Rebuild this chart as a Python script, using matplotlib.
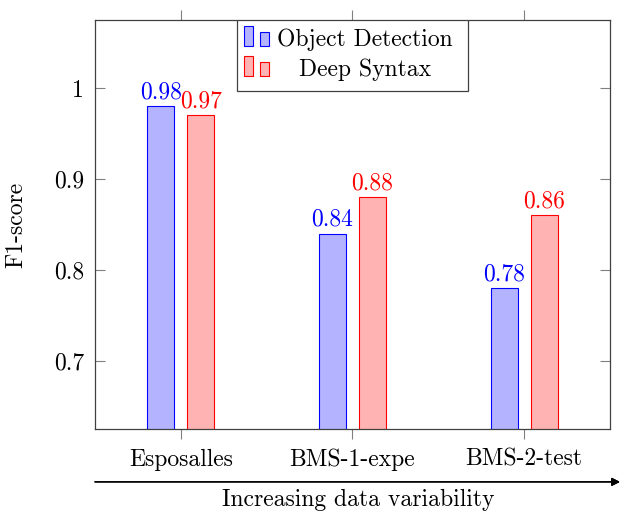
import matplotlib.pyplot as plt
from matplotlib.patches import Rectangle
import numpy as np

plt.rcParams['font.family'] = 'cmr10'
plt.rcParams['axes.formatter.use_mathtext'] = True

categories = ['Esposalles', 'BMS-1-expe', 'BMS-2-test']
object_detection = [0.98, 0.84, 0.78]
deep_syntax = [0.97, 0.88, 0.86]
series_names = ['Object Detection', 'Deep Syntax']

blue_fill = '#b3b3ff'
red_fill = '#ffb3b3'
fs = 17

fig = plt.figure(figsize=(6.2, 5.11), dpi=100)
ax = fig.add_axes([0.1532, 0.1599, 0.8306, 0.801])

x = np.arange(len(categories))
w = 0.157
off = 0.1165
ax.bar(x - off, object_detection, w, color=blue_fill, edgecolor='blue', linewidth=0.8)
ax.bar(x + off, deep_syntax, w, color=red_fill, edgecolor='red', linewidth=0.8)

for xi, v in zip(x, object_detection):
    ax.annotate(f'{v:.2f}', (xi - off, v), xytext=(0, 2), textcoords='offset points',
                ha='center', va='bottom', color='blue', fontsize=fs)
for xi, v in zip(x, deep_syntax):
    ax.annotate(f'{v:.2f}', (xi + off, v), xytext=(0, 2), textcoords='offset points',
                ha='center', va='bottom', color='red', fontsize=fs)

ax.set_xlim(-0.5, 2.5)
ax.set_ylim(0.6244, 1.0752)
ax.set_xticks(x)
ax.set_xticklabels(categories, fontsize=fs)
ax.set_yticks([0.7, 0.8, 0.9, 1.0])
ax.set_yticklabels(['0.7', '0.8', '0.9', '1'], fontsize=fs)
ax.tick_params(axis='x', direction='out', length=7, top=True, color='#808080', pad=7)
ax.tick_params(axis='y', direction='in', length=7, right=True, color='#808080', pad=8)
for s in ax.spines.values():
    s.set_color('#404040')
    s.set_linewidth(0.9)
ax.set_ylabel('F1-score', fontsize=fs)
ax.yaxis.set_label_coords(-0.132, 0.5)

# legend drawn like pgfplots ybar legend
ax.add_patch(Rectangle((0.2757, 0.8265), 0.4486, 0.1735, transform=ax.transAxes,
                       facecolor='white', edgecolor='#404040', linewidth=0.9, zorder=5))
rows = [(0.951, blue_fill, 'blue'), (0.878, red_fill, 'red')]
for (yc, fc, ec), name in zip(rows, series_names):
    ax.add_patch(Rectangle((0.2893, yc - 0.015), 0.017, 0.049, transform=ax.transAxes,
                           facecolor=fc, edgecolor=ec, linewidth=0.8, zorder=6))
    ax.add_patch(Rectangle((0.3204, yc - 0.015), 0.0175, 0.035, transform=ax.transAxes,
                           facecolor=fc, edgecolor=ec, linewidth=0.8, zorder=6))
    ax.text(0.524, yc, name, transform=ax.transAxes, ha='center', va='center',
            fontsize=fs, zorder=7)

# arrow for x label
fig.add_artist(plt.annotate('', xy=(1.0, 0.057), xytext=(0.1532, 0.057),
                            xycoords='figure fraction', textcoords='figure fraction',
                            arrowprops=dict(arrowstyle='-|>', color='black', lw=1.0,
                                            mutation_scale=12, shrinkA=0, shrinkB=0)))
fig.text(0.578, 0.022, 'Increasing data variability', ha='center', va='center', fontsize=fs)

fig.savefig('out.png', dpi=100)
